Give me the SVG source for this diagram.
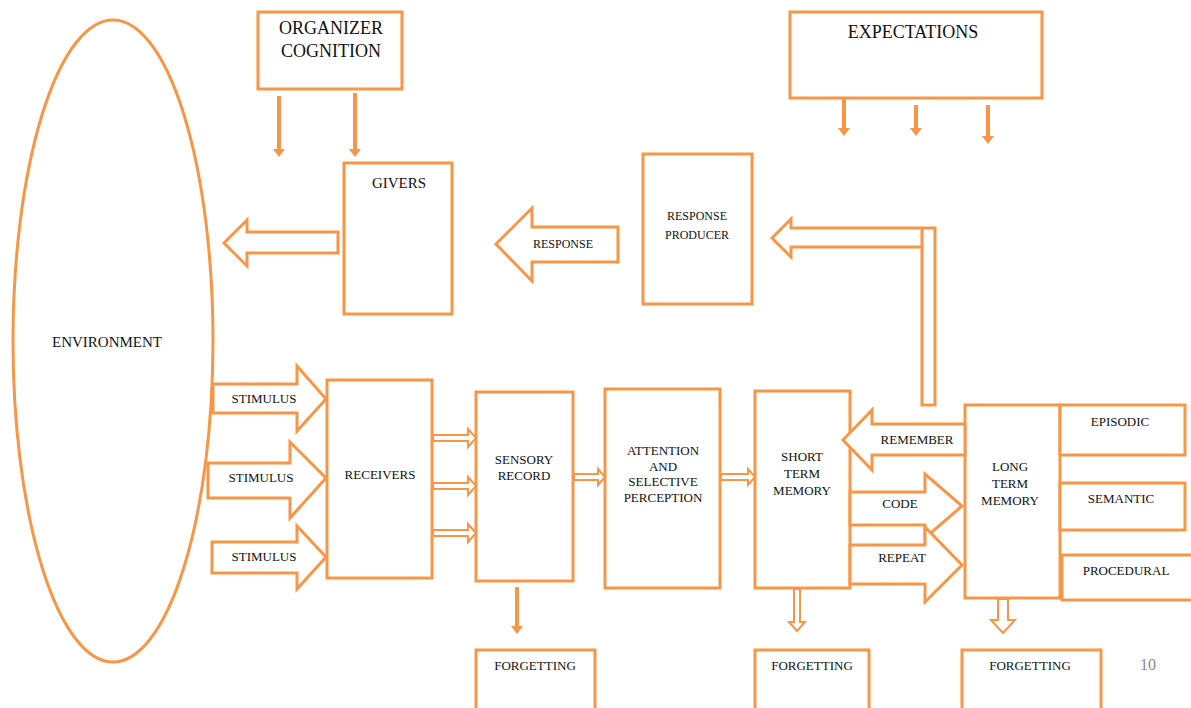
<svg xmlns="http://www.w3.org/2000/svg" width="1191" height="708" viewBox="0 0 1191 708">
<style>
.s{fill:#fff;stroke:#F79646;stroke-width:3}
.thin{fill:#fff;stroke:#F79646;stroke-width:2}
.ln{stroke:#F79646;stroke-width:4;fill:none}
.hd{fill:#F79646}
text{font-family:"Liberation Serif","Times New Roman",serif;fill:#111;text-anchor:middle}
.big{font-size:18px}
.med{font-size:15px}
.sm{font-size:13px}
.xs{font-size:12px}
</style>
<rect width="1191" height="708" fill="#fff"/>

<g id="environment">
<ellipse class="s" cx="113" cy="341" rx="100" ry="321"/>
<text class="med" x="107" y="347">ENVIRONMENT</text>
</g>

<g id="organizer-cognition">
<rect class="s" x="258" y="12" width="144" height="77"/>
<text class="big" x="331" y="34">ORGANIZER</text>
<text class="big" x="331" y="57">COGNITION</text>
</g>

<g id="givers">
<rect class="s" x="344" y="163" width="108" height="151"/>
<text class="med" x="399" y="188">GIVERS</text>
</g>

<g id="response-producer">
<rect class="s" x="643" y="154" width="109" height="150"/>
<text class="xs" x="697" y="220">RESPONSE</text>
<text class="xs" x="697" y="239">PRODUCER</text>
</g>

<g id="expectations">
<rect class="s" x="790" y="12" width="252" height="86"/>
<text class="big" x="913" y="38">EXPECTATIONS</text>
</g>

<g id="receivers">
<rect class="s" x="327" y="380" width="105" height="198"/>
<text class="sm" x="380" y="479">RECEIVERS</text>
</g>

<g id="sensory-record">
<rect class="s" x="476" y="392" width="97" height="189"/>
<text class="sm" x="524" y="464">SENSORY</text>
<text class="sm" x="524" y="480">RECORD</text>
</g>

<g id="attention">
<rect class="s" x="605" y="389" width="115" height="199"/>
<text class="sm" x="663" y="455">ATTENTION</text>
<text class="sm" x="663" y="471">AND</text>
<text class="sm" x="663" y="486">SELECTIVE</text>
<text class="sm" x="663" y="502">PERCEPTION</text>
</g>

<g id="short-term-memory">
<rect class="s" x="755" y="391" width="95" height="197"/>
<text class="sm" x="802" y="461">SHORT</text>
<text class="sm" x="802" y="478">TERM</text>
<text class="sm" x="802" y="495">MEMORY</text>
</g>

<g id="long-term-memory">
<rect class="s" x="965" y="405" width="95" height="193"/>
<text class="sm" x="1010" y="471">LONG</text>
<text class="sm" x="1010" y="488">TERM</text>
<text class="sm" x="1010" y="505">MEMORY</text>
</g>

<g id="episodic">
<rect class="s" x="1060" y="405" width="125" height="50"/>
<text class="sm" x="1120" y="426">EPISODIC</text>
</g>

<g id="semantic">
<rect class="s" x="1060" y="483" width="125" height="47"/>
<text class="sm" x="1121" y="503">SEMANTIC</text>
</g>

<g id="procedural">
<rect class="s" x="1062" y="555" width="132" height="45"/>
<text class="sm" x="1126" y="575">PROCEDURAL</text>
</g>

<g id="forgetting-1">
<rect class="s" x="476" y="650" width="119" height="64"/>
<text class="sm" x="535" y="670">FORGETTING</text>
</g>

<g id="forgetting-2">
<rect class="s" x="755" y="650" width="114" height="64"/>
<text class="sm" x="812" y="670">FORGETTING</text>
</g>

<g id="forgetting-3">
<rect class="s" x="962" y="650" width="139" height="64"/>
<text class="sm" x="1030" y="670">FORGETTING</text>
</g>

<g id="connectors">
<!-- organizer arrows -->
<line class="ln" x1="279" y1="96" x2="279" y2="150"/>
<polygon class="hd" points="273,149 285,149 279,157"/>
<line class="ln" x1="355" y1="93" x2="355" y2="150"/>
<polygon class="hd" points="349,149 361,149 355,157"/>
<!-- expectations arrows -->
<line class="ln" x1="844" y1="98" x2="844" y2="129"/>
<polygon class="hd" points="838,128 850,128 844,136"/>
<line class="ln" x1="916" y1="105" x2="916" y2="129"/>
<polygon class="hd" points="910,128 922,128 916,136"/>
<line class="ln" x1="988" y1="105" x2="988" y2="137"/>
<polygon class="hd" points="982,136 994,136 988,144"/>
<!-- givers to environment -->
<polygon class="s" points="224,243 247,220 247,232 338,232 338,253 247,253 247,266"/>
<!-- response -->
<polygon class="s" points="496,244 532,208 532,227 618,227 618,262 532,262 532,281"/>
<text class="xs" x="563" y="248">RESPONSE</text>
<!-- LTM to response producer -->
<polygon class="s" points="772,238 791,219 791,228 935,228 935,405 922,405 922,247 791,247 791,257"/>
<line x1="922" y1="228" x2="922" y2="247" stroke="#F79646" stroke-width="3"/>
<!-- stimulus arrows -->
<polygon class="s" points="213,384 297,384 297,366 326,399 297,431 297,413 213,413"/>
<text class="sm" x="264" y="403">STIMULUS</text>
<polygon class="s" points="208,463 290,463 290,442 326,478 290,518 290,498 208,498"/>
<text class="sm" x="261" y="482">STIMULUS</text>
<polygon class="s" points="212,542 297,542 297,526 326,557 297,589 297,573 212,573"/>
<text class="sm" x="264" y="561">STIMULUS</text>
<!-- receivers to sensory -->
<polygon class="thin" points="433,435 468,435 468,429 476,438 468,447 468,441 433,441"/>
<polygon class="thin" points="433,483 468,483 468,477 476,486 468,495 468,489 433,489"/>
<polygon class="thin" points="433,530 468,530 468,524 476,533 468,542 468,536 433,536"/>
<!-- sensory to attention -->
<polygon class="thin" points="574,474 598,474 598,469 605,477 598,485 598,480 574,480"/>
<!-- attention to STM -->
<polygon class="thin" points="721,474 748,474 748,469 755,477 748,485 748,480 721,480"/>
<!-- remember -->
<polygon class="s" points="843,440 872,410 872,424 965,424 965,455 872,455 872,470"/>
<text class="sm" x="917" y="444">REMEMBER</text>
<!-- code -->
<polygon class="s" points="850,492 925,492 925,474 962,506 925,538 925,525 850,525"/>
<text class="sm" x="900" y="508">CODE</text>
<!-- repeat -->
<polygon class="s" points="850,545 925,545 925,527 962,565 925,602 925,584 850,584"/>
<text class="sm" x="902" y="562">REPEAT</text>
<!-- forgetting arrows -->
<line class="ln" x1="517" y1="587" x2="517" y2="627"/>
<polygon class="hd" points="511,626 523,626 517,634"/>
<polygon class="thin" points="794,589 794,622 789,622 797,631 805,622 800,622 800,589"/>
<polygon class="thin" points="998,599 998,620 991,620 1003,633 1015,620 1008,620 1008,599"/>
</g>

<text x="1148" y="670" style="font-size:16px;fill:#888">10</text>
</svg>
